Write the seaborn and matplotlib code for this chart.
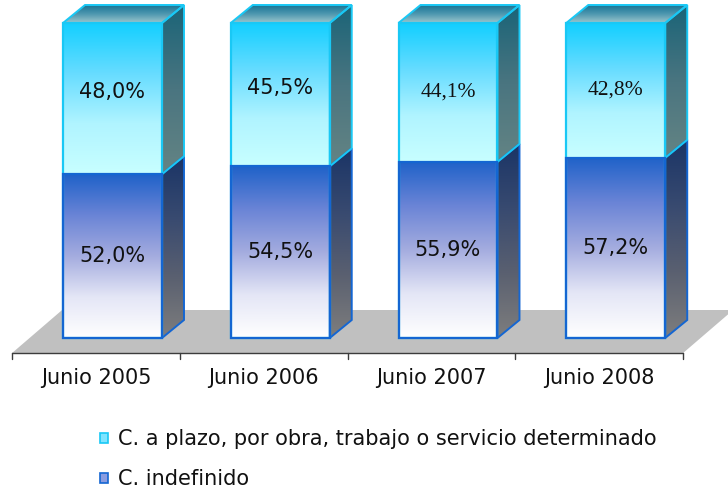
import numpy as np
import pandas as pd
import matplotlib
matplotlib.use("Agg")
import matplotlib.pyplot as plt
import seaborn as sns
from matplotlib.patches import Polygon, Patch
from matplotlib.colors import to_rgb

# ---------------- data ----------------
categories = ["Junio 2005", "Junio 2006", "Junio 2007", "Junio 2008"]
indefinido = [52.0, 54.5, 55.9, 57.2]
plazo = [48.0, 45.5, 44.1, 42.8]
labels_indefinido = ["52,0%", "54,5%", "55,9%", "57,2%"]
labels_plazo = ["48,0%", "45,5%", "44,1%", "42,8%"]
serif_plazo = [False, False, True, True]
series_names = ["C. a plazo, por obra, trabajo o servicio determinado", "C. indefinido"]

df = pd.DataFrame({
    "periodo": categories,
    "indefinido": indefinido,
    "total": [a + b for a, b in zip(indefinido, plazo)],
})

sns.set_theme(style="white")
plt.rcParams["font.family"] = ["DejaVu Sans"]

W, H, DPI = 728, 493, 100
fig = plt.figure(figsize=(W / DPI, H / DPI), dpi=DPI)
ax = fig.add_axes([0, 0, 1, 1])

# pixel scale helpers (layout only)
PX_X = 167.75    # px per category
PX_Y = 3.15      # px per percentage point
X0_PX, Y0_PX = 96.0, 338.0
xlim = (-X0_PX / PX_X, (W - X0_PX) / PX_X)
ylim = (-(H - Y0_PX) / PX_Y, Y0_PX / PX_Y)

dx = 22 / PX_X
dy = 18 / PX_Y
shift = 16.5 / PX_X          # bars sit back from front edge of floor
floor_front = -15 / PX_Y
floor_dx = 50 / PX_X
floor_dy = 43 / PX_Y
n = len(categories)

# ---- floor ----
fl = Polygon([(-0.5, floor_front), (-0.5 + floor_dx, floor_front + floor_dy),
              (n - 0.5 + floor_dx, floor_front + floor_dy), (n - 0.5, floor_front)],
             closed=True, facecolor="#c0c0c0", edgecolor="none", zorder=1)
ax.add_patch(fl)

# ---- bars via seaborn ----
sns.barplot(data=df, x="periodo", y="total", width=0.59, ax=ax,
            facecolor="none", edgecolor="#19c8f5", linewidth=1.6, zorder=4)
sns.barplot(data=df, x="periodo", y="indefinido", width=0.59, ax=ax,
            facecolor="none", edgecolor="#1466d2", linewidth=1.6, zorder=5)

patches = ax.patches[1:]  # skip floor
top_bars = patches[:4]
bot_bars = patches[4:8]


def grad(colors, n=256):
    pos = np.linspace(0, 1, len(colors))
    cs = np.array([to_rgb(c) for c in colors])
    t = np.linspace(0, 1, n)
    arr = np.stack([np.interp(t, pos, cs[:, k]) for k in range(3)], axis=-1)
    return arr[:, None, :]  # index 0 = bottom (origin lower)


g_bot_front = grad(["#ffffff", "#e4e6f6", "#a4acdf", "#6a84d6", "#1f62c9"])
g_top_front = grad(["#c8ffff", "#b0f4ff", "#66dcff", "#12cfff"])
g_bot_side = grad(["#7e7e7e", "#5a6070", "#384a70", "#1a3466"])
g_top_side = grad(["#648484", "#4a7580", "#1a6478"])
g_top_face = grad(["#9cc6cc", "#4f98b0", "#177494"])


def fill(poly_pts, g, edge, z):
    poly = Polygon(poly_pts, closed=True, facecolor="none", edgecolor=edge, linewidth=1.4, zorder=z + 0.5)
    ax.add_patch(poly)
    xs = [p[0] for p in poly_pts]
    ys = [p[1] for p in poly_pts]
    im = ax.imshow(g, extent=[min(xs), max(xs), min(ys), max(ys)], origin="lower",
                   aspect="auto", interpolation="bilinear", zorder=z)
    im.set_clip_path(poly)


for i, (tb, bb) in enumerate(zip(top_bars, bot_bars)):
    for p in (tb, bb):
        p.set_x(p.get_x() + shift)
    xl = bb.get_x()
    w = bb.get_width()
    xr = xl + w
    yd = bb.get_height()
    yt = tb.get_height()
    # front faces
    im = ax.imshow(g_bot_front, extent=[xl, xr, 0, yd], origin="lower", aspect="auto",
                   interpolation="bilinear", zorder=3)
    im.set_clip_path(bb)
    im = ax.imshow(g_top_front, extent=[xl, xr, yd, yt], origin="lower", aspect="auto",
                   interpolation="bilinear", zorder=3)
    im.set_clip_path(tb)
    # side faces
    fill([(xr, 0), (xr + dx, dy), (xr + dx, yd + dy), (xr, yd)], g_bot_side, "#1466d2", 3)
    fill([(xr, yd), (xr + dx, yd + dy), (xr + dx, yt + dy), (xr, yt)], g_top_side, "#19c8f5", 3)
    # top face
    fill([(xl, yt), (xl + dx, yt + dy), (xr + dx, yt + dy), (xr, yt)], g_top_face, "#19c8f5", 3)

    # labels
    cx = xl + w / 2
    ax.text(cx, yd / 2, labels_indefinido[i], ha="center", va="center",
            fontsize=15, color="#111111", zorder=8)
    if serif_plazo[i]:
        ax.text(cx, (yd + yt) / 2, labels_plazo[i], ha="center", va="center",
                fontsize=15.5, family="Liberation Serif", color="#111111", zorder=8)
    else:
        ax.text(cx, (yd + yt) / 2 + 2, labels_plazo[i], ha="center", va="center",
                fontsize=15, color="#111111", zorder=8)

# ---- x axis (front edge of floor) ----
ax.plot([-0.5, n - 0.5], [floor_front, floor_front], color="#3c3c3c", lw=1.0, zorder=6)
for b in range(n + 1):
    xb = b - 0.5
    ax.plot([xb, xb], [floor_front, floor_front - 6 / PX_Y], color="#3c3c3c", lw=1.0, zorder=6)
for i, c in enumerate(categories):
    ax.text(i, floor_front - 25 / PX_Y, c, ha="center", va="center",
            fontsize=15, color="#111111")

# ---- legend ----
handles = [Patch(facecolor="#7fe4ff", edgecolor="#19c8f5", linewidth=1.2),
           Patch(facecolor="#8a9ce0", edgecolor="#1466d2", linewidth=1.2)]
ax.legend(handles, series_names, loc="upper left", bbox_to_anchor=(90 / W, 1 - 419 / H),
          frameon=False, fontsize=15, handlelength=0.38, handleheight=0.38,
          handletextpad=0.45, labelspacing=0.95, borderpad=0, labelcolor="#111111")

ax.set_xlim(*xlim)
ax.set_ylim(*ylim)
ax.set_aspect("auto")
ax.axis("off")

fig.savefig("out.png", dpi=DPI)
